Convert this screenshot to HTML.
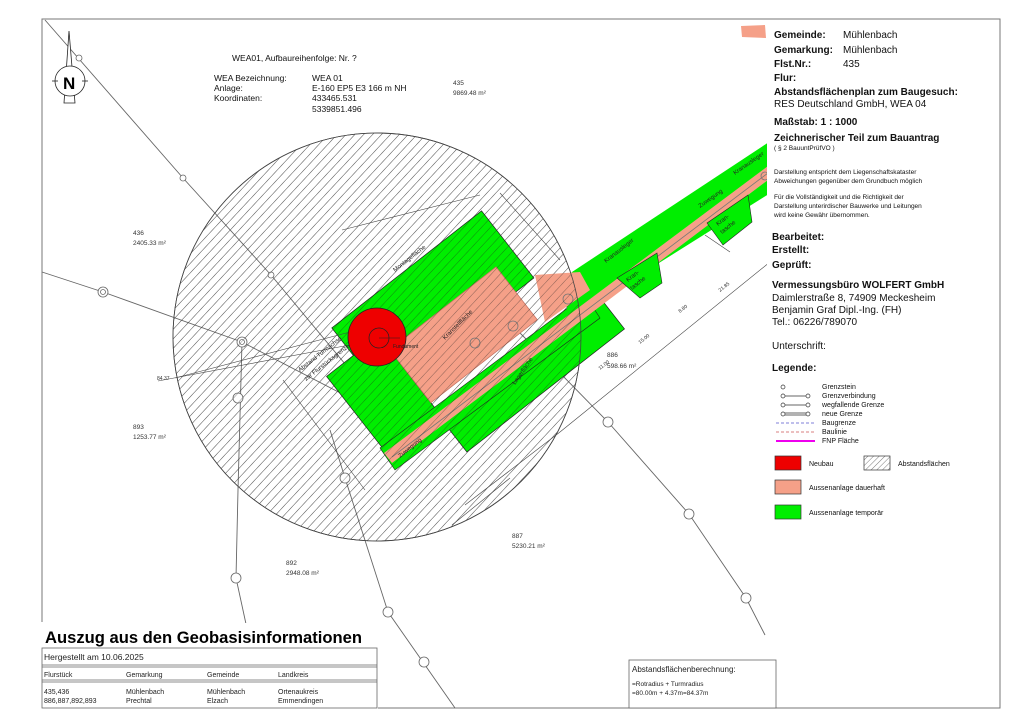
<!DOCTYPE html>
<html><head><meta charset="utf-8"><style>
html,body{margin:0;padding:0;background:#fff;}
svg{display:block;font-family:"Liberation Sans",sans-serif;}
</style></head><body>
<svg width="1024" height="724" viewBox="0 0 1024 724" xmlns="http://www.w3.org/2000/svg">
<defs>
<pattern id="h" width="7" height="6.5" patternUnits="userSpaceOnUse" patternTransform="rotate(-47)">
<line x1="0" y1="0" x2="7" y2="0" stroke="#222" stroke-width="0.5"/></pattern>
<pattern id="h2" width="5" height="4" patternUnits="userSpaceOnUse" patternTransform="rotate(-45)">
<line x1="0" y1="0" x2="5" y2="0" stroke="#222" stroke-width="0.6"/></pattern>
</defs>
<rect width="1024" height="724" fill="#fff"/>
<polyline points="42,622 42,19 1000,19 1000,708 42,708" fill="none" stroke="#777" stroke-width="1"/>

<circle cx="377" cy="337" r="204" fill="url(#h)" stroke="#444" stroke-width="0.8"/>

<g fill="none" stroke="#666" stroke-width="0.9">
<polyline points="45,20 183,178 271,275 400,430"/>
<polyline points="42,272 103,292 242,342 350,398 410,440"/>
<polyline points="242,342 238,490 236,578 246,624"/>
<polyline points="330,430 345,478 388,612 455,708"/>
<polyline points="470,285 513,326 559,372 608,422 689,514 746,598 765,635"/>
<line x1="392" y1="452" x2="772" y2="168"/>
</g>
<g fill="#fff" stroke="#666" stroke-width="0.8">
<circle cx="79" cy="58" r="3"/><circle cx="183" cy="178" r="3"/><circle cx="271" cy="275" r="3"/>
<circle cx="103" cy="292" r="5"/><circle cx="103" cy="292" r="2.5"/>
<circle cx="242" cy="342" r="5"/><circle cx="242" cy="342" r="2.5"/>
<circle cx="238" cy="398" r="5"/><circle cx="236" cy="578" r="5"/>
<circle cx="345" cy="478" r="5"/><circle cx="388" cy="612" r="5"/><circle cx="424" cy="662" r="5"/>
<circle cx="608" cy="422" r="5"/><circle cx="689" cy="514" r="5"/><circle cx="746" cy="598" r="5"/>
</g>

<g transform="translate(377,337) rotate(-38)" stroke="#222" stroke-width="0.7">
<rect x="-30" y="-35" width="190" height="85" fill="#00ee00"/>
<rect x="-64" y="0" width="66" height="106" fill="#00ee00"/>
<rect x="0" y="96" width="200" height="50" fill="#00ee00"/>
<rect x="2" y="18" width="135" height="67" fill="#f5a088" stroke="#c07060"/>
</g>
<polygon points="380,448 585,295 600,318 395,470" fill="#00ee00" stroke="#222" stroke-width="0.6"/>
<polygon points="560,285 572,272 772,140 772,192 600,300 570,318" fill="#00ee00"/>
<polygon points="384,453 772,163 772,177 392,463" fill="#f5a088"/>
<polygon points="535,275 580,272 590,290 545,322" fill="#f5a088"/>
<line x1="392" y1="457" x2="772" y2="170" stroke="#777" stroke-width="0.8"/>
<polygon points="617,278 657,253 662,283 640,298" fill="#00ee00" stroke="#222" stroke-width="0.6"/>
<polygon points="707,223 748,195 752,222 723,245" fill="#00ee00" stroke="#222" stroke-width="0.6"/>
<g fill="none" stroke="#777" stroke-width="0.8">
<circle cx="475" cy="343" r="5"/><circle cx="513" cy="326" r="5"/><circle cx="568" cy="299" r="5"/><circle cx="765" cy="176" r="4"/>
</g>

<circle cx="377" cy="337" r="204" fill="url(#h)" stroke="#444" stroke-width="0.8"/>

<g stroke="#444" stroke-width="0.6" fill="none">
<line x1="158" y1="381" x2="355" y2="344"/>
<line x1="175" y1="378" x2="350" y2="332"/>
<line x1="560" y1="432" x2="770" y2="262"/>
<line x1="560" y1="432" x2="465" y2="505"/>
<line x1="452" y1="525" x2="510" y2="478"/>
<line x1="283" y1="380" x2="365" y2="490"/>
<line x1="342" y1="230" x2="480" y2="195"/>
<line x1="500" y1="193" x2="560" y2="260"/>
<line x1="705" y1="235" x2="730" y2="252"/>
</g>
<g font-size="5" fill="#333">
<text x="157" y="380">84.37</text>
<text x="640" y="344" transform="rotate(-38 640 344)">15.00</text>
<text x="680" y="313" transform="rotate(-38 680 313)">8.80</text>
<text x="720" y="292" transform="rotate(-38 720 292)">21.85</text>
<text x="600" y="370" transform="rotate(-38 600 370)">11.00</text>
</g>

<circle cx="377" cy="337" r="29" fill="#ee0000" stroke="#222" stroke-width="0.8"/>
<circle cx="379" cy="338" r="10" fill="none" stroke="#222" stroke-width="0.7"/>
<line x1="379" y1="338" x2="400" y2="338" stroke="#222" stroke-width="0.6"/>
<text x="393" y="348" font-size="5" fill="#222">Fundament</text>

<g font-size="6" fill="#222">
<text x="395" y="272" transform="rotate(-38 395 272)">Montagefläche</text>
<text x="445" y="340" transform="rotate(-45 445 340)">Kranstellfläche</text>
<text x="515" y="385" transform="rotate(-55 515 385)">Lagerfläche</text>
<text x="400" y="458" transform="rotate(-38 400 458)">Zuwegung</text>
<text x="606" y="263" transform="rotate(-38 606 263)">Kranausleger</text>
<text x="735" y="175" transform="rotate(-35 735 175)">Kranausleger</text>
<text x="700" y="208" transform="rotate(-35 700 208)">Zuwegung</text>
<text x="628" y="282" transform="rotate(-38 628 282)">Kran-</text>
<text x="632" y="290" transform="rotate(-38 632 290)">tasche</text>
<text x="718" y="226" transform="rotate(-38 718 226)">Kran-</text>
<text x="722" y="234" transform="rotate(-38 722 234)">tasche</text>
<text x="300" y="372" transform="rotate(-38 300 372)">Abstand Turmachse</text>
<text x="306" y="381" transform="rotate(-38 306 381)">zur Flurstücksgrenze</text>
</g>

<g stroke="#222" stroke-width="0.8" fill="none">
<polygon points="69,31 64,103 75,103" fill="#fff"/>
<circle cx="70" cy="81" r="15" fill="#fff"/>
<line x1="52" y1="81" x2="58" y2="81"/><line x1="82" y1="81" x2="88" y2="81"/>
</g>
<text x="63" y="89" font-size="17" font-weight="bold" fill="#000">N</text>

<g font-size="8.5" fill="#111">
<text x="232" y="61">WEA01, Aufbaureihenfolge: Nr. ?</text>
<text x="214" y="81">WEA Bezeichnung:</text><text x="312" y="81">WEA 01</text>
<text x="214" y="91">Anlage:</text><text x="312" y="91">E-160 EP5 E3 166 m NH</text>
<text x="214" y="101">Koordinaten:</text><text x="312" y="101">433465.531</text>
<text x="312" y="112">5339851.496</text>
</g>
<g font-size="6.5" fill="#333">
<text x="453" y="85">435</text><text x="453" y="95">9869.48 m²</text>
<text x="133" y="235">436</text><text x="133" y="245">2405.33 m²</text>
<text x="133" y="429">893</text><text x="133" y="439">1253.77 m²</text>
<text x="286" y="565">892</text><text x="286" y="575">2948.08 m²</text>
<text x="512" y="538">887</text><text x="512" y="548">5230.21 m²</text>
<text x="607" y="357">886</text><text x="607" y="368">598.66 m²</text>
</g>

<rect x="767" y="20" width="232" height="687" fill="#fff"/>
<polygon points="741,26 765,25 766,38 742,37" fill="#f5a088"/>
<g fill="#111">
<g font-size="10" font-weight="bold">
<text x="774" y="38">Gemeinde:</text><text x="774" y="53">Gemarkung:</text><text x="774" y="67">Flst.Nr.:</text><text x="774" y="81">Flur:</text>
<text x="774" y="95">Abstandsflächenplan  zum Baugesuch:</text>
<text x="774" y="125">Maßstab:  1 : 1000</text>
<text x="774" y="141">Zeichnerischer Teil zum Bauantrag</text>
<text x="772" y="240">Bearbeitet:</text><text x="772" y="253">Erstellt:</text><text x="772" y="268">Geprüft:</text>
<text x="772" y="288">Vermessungsbüro WOLFERT GmbH</text>
<text x="772" y="371">Legende:</text>
</g>
<g font-size="10">
<text x="843" y="38">Mühlenbach</text><text x="843" y="53">Mühlenbach</text><text x="843" y="67">435</text>
<text x="774" y="107">RES Deutschland GmbH, WEA 04</text>
<text x="772" y="301">Daimlerstraße 8, 74909 Meckesheim</text>
<text x="772" y="313">Benjamin Graf Dipl.-Ing. (FH)</text>
<text x="772" y="325">Tel.: 06226/789070</text>
<text x="772" y="349">Unterschrift:</text>
</g>
<g font-size="6.5">
<text x="774" y="150">( § 2 BauuntPrüfVO )</text>
<text x="774" y="174">Darstellung entspricht dem Liegenschaftskataster</text>
<text x="774" y="183">Abweichungen gegenüber dem Grundbuch möglich</text>
<text x="774" y="199">Für die Vollständigkeit und die Richtigkeit der</text>
<text x="774" y="208">Darstellung unterirdischer Bauwerke und Leitungen</text>
<text x="774" y="217">wird keine Gewähr übernommen.</text>
</g>
<g font-size="7">
<text x="822" y="389">Grenzstein</text><text x="822" y="398">Grenzverbindung</text><text x="822" y="407">wegfallende Grenze</text>
<text x="822" y="416">neue Grenze</text><text x="822" y="425">Baugrenze</text><text x="822" y="434">Baulinie</text><text x="822" y="443">FNP Fläche</text>
<text x="809" y="466">Neubau</text><text x="898" y="466">Abstandsflächen</text>
<text x="809" y="490">Aussenanlage dauerhaft</text><text x="809" y="515">Aussenanlage temporär</text>
</g>
</g>
<g stroke="#333" stroke-width="0.7" fill="#fff">
<circle cx="783" cy="387" r="2"/>
<line x1="783" y1="396" x2="808" y2="396"/><circle cx="783" cy="396" r="2"/><circle cx="808" cy="396" r="2"/>
<line x1="783" y1="405" x2="808" y2="405"/><circle cx="783" cy="405" r="2"/><circle cx="808" cy="405" r="2"/>
<line x1="783" y1="413" x2="808" y2="413"/><line x1="783" y1="415" x2="808" y2="415"/><circle cx="783" cy="414" r="2"/><circle cx="808" cy="414" r="2"/>
<line x1="776" y1="423" x2="815" y2="423" stroke="#55c" stroke-dasharray="3,2"/>
<line x1="776" y1="432" x2="815" y2="432" stroke="#c55" stroke-dasharray="3,2"/>
<line x1="776" y1="441" x2="815" y2="441" stroke="#e0e" stroke-width="2"/>
<rect x="775" y="456" width="26" height="14" fill="#ee0000"/>
<rect x="864" y="456" width="26" height="14" fill="url(#h2)"/>
<rect x="775" y="480" width="26" height="14" fill="#f5a088"/>
<rect x="775" y="505" width="26" height="14" fill="#00ee00"/>
</g>

<rect x="42" y="623" width="336" height="86" fill="#fff"/>
<text x="45" y="643" font-size="17" font-weight="bold" fill="#000" textLength="317" lengthAdjust="spacingAndGlyphs">Auszug aus den Geobasisinformationen</text>
<g fill="none" stroke="#666" stroke-width="0.8">
<rect x="42" y="648" width="335" height="60"/>
<line x1="42" y1="665" x2="377" y2="665"/><line x1="42" y1="667" x2="377" y2="667"/>
<line x1="42" y1="680" x2="377" y2="680"/><line x1="42" y1="682" x2="377" y2="682"/>
</g>
<g fill="#222" font-size="7">
<text x="44" y="660" font-size="8.5">Hergestellt  am  10.06.2025</text>
<text x="44" y="677">Flurstück</text><text x="126" y="677">Gemarkung</text><text x="207" y="677">Gemeinde</text><text x="278" y="677">Landkreis</text>
<text x="44" y="694">435,436</text><text x="126" y="694">Mühlenbach</text><text x="207" y="694">Mühlenbach</text><text x="278" y="694">Ortenaukreis</text>
<text x="44" y="703">886,887,892,893</text><text x="126" y="703">Prechtal</text><text x="207" y="703">Elzach</text><text x="278" y="703">Emmendingen</text>
</g>
<rect x="629" y="660" width="147" height="48" fill="#fff" stroke="#666" stroke-width="0.8"/>
<g fill="#222">
<text x="632" y="672" font-size="8">Abstandsflächenberechnung:</text>
<text x="632" y="686" font-size="6.5">=Rotradius + Turmradius</text>
<text x="632" y="695" font-size="6.5">=80.00m + 4.37m=84.37m</text>
</g>
</svg>
</body></html>
